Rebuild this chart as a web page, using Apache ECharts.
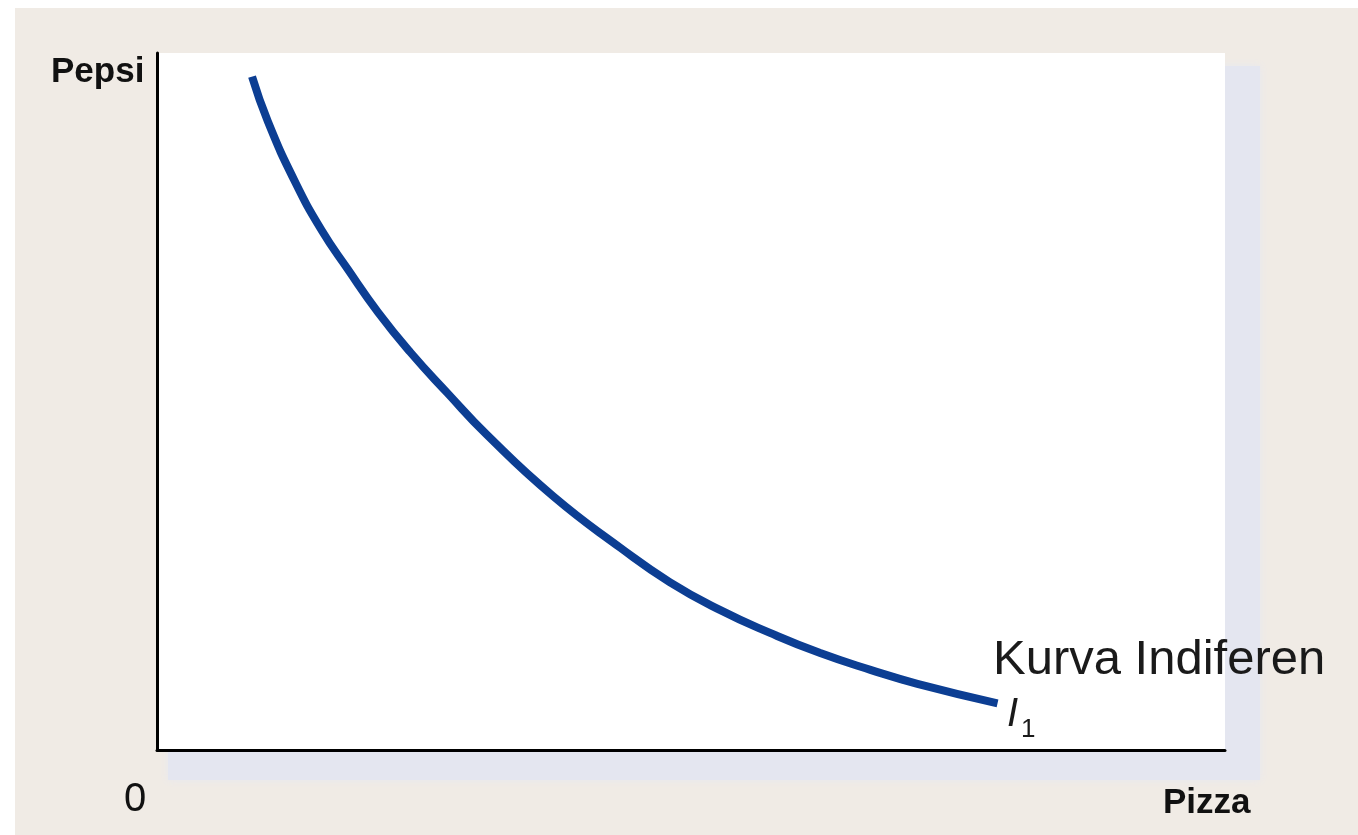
<!DOCTYPE html>
<html>
<head>
<meta charset="utf-8">
<style>
html,body{margin:0;padding:0;background:#ffffff;}
#chart{width:1358px;height:835px;}
</style>
<script src="https://cdn.jsdelivr.net/npm/echarts@6/dist/echarts.min.js"></script>
</head>
<body>
<div id="chart"></div>
<script>
// Indifference curve I1 (Pizza on x, Pepsi on y)
const pizza = [0.89, 1.04, 1.29, 1.54, 1.79, 2.07, 2.37, 2.72, 3.09, 3.71, 4.34, 4.80, 5.27, 5.74, 6.21, 6.68, 7.12, 7.87];
const pepsi = [9.66, 9.01, 8.16, 7.46, 6.89, 6.28, 5.71, 5.12, 4.52, 3.64, 2.90, 2.41, 2.01, 1.68, 1.39, 1.15, 0.95, 0.67];
const xAxisName = 'Pizza';
const yAxisName = 'Pepsi';
const originLabel = '0';
const curveName = 'Kurva Indiferen';
const curveSymbol = 'I';
const curveSub = '1';

const curveData = pizza.map((x, i) => [x, pepsi[i]]);

const chart = echarts.init(document.getElementById('chart'), null, {renderer: 'canvas'});
const font = '"Liberation Sans", Arial, sans-serif';

chart.setOption({
  backgroundColor: '#f0ebe5',
  animation: false,
  grid: {left: 157, top: 53, right: 133, bottom: 85, show: true, backgroundColor: '#ffffff', borderWidth: 0},
  xAxis: {
    type: 'value', min: 0, max: 10,
    axisLine: {show: true, onZero: false, lineStyle: {color: '#000000', width: 3}},
    axisTick: {show: false}, axisLabel: {show: false}, splitLine: {show: false}
  },
  yAxis: {
    type: 'value', min: 0, max: 10,
    axisLine: {show: true, onZero: false, lineStyle: {color: '#000000', width: 3}},
    axisTick: {show: false}, axisLabel: {show: false}, splitLine: {show: false}
  },
  graphic: [
    {type: 'rect', z: -10, silent: true, shape: {x: 0, y: 0, width: 1358, height: 8}, style: {fill: '#ffffff'}},
    {type: 'rect', z: -10, silent: true, shape: {x: 0, y: 0, width: 15, height: 835}, style: {fill: '#ffffff'}},
    {type: 'rect', z: -5, silent: true, shape: {x: 168, y: 66, width: 1092, height: 714},
      style: {fill: '#e4e6f0', shadowBlur: 8, shadowColor: '#e7e8f0'}},
    {type: 'text', left: 51, top: 55, z: 10, style: {text: yAxisName, font: 'bold 35px ' + font, fill: '#111111'}},
    {type: 'text', left: 1163, top: 786, z: 10, style: {text: xAxisName, font: 'bold 35px ' + font, fill: '#111111'}},
    {type: 'text', left: 124, top: 780, z: 10, style: {text: originLabel, font: '40px ' + font, fill: '#111111'}},
    {type: 'text', left: 993, top: 636, z: 10, style: {text: curveName, font: '49px ' + font, fill: '#1a1a1a'}},
    {type: 'text', left: 1007, top: 695, z: 10, style: {text: curveSymbol, font: 'italic 40px ' + font, fill: '#1a1a1a'}},
    {type: 'text', left: 1021, top: 717, z: 10, style: {text: curveSub, font: '26px ' + font, fill: '#1a1a1a'}}
  ],
  series: [{
    type: 'line',
    data: curveData,
    smooth: 0.5,
    symbol: 'none',
    lineStyle: {color: '#0c3e93', width: 8, cap: 'butt'},
    z: 5
  }]
});
</script>
</body>
</html>
